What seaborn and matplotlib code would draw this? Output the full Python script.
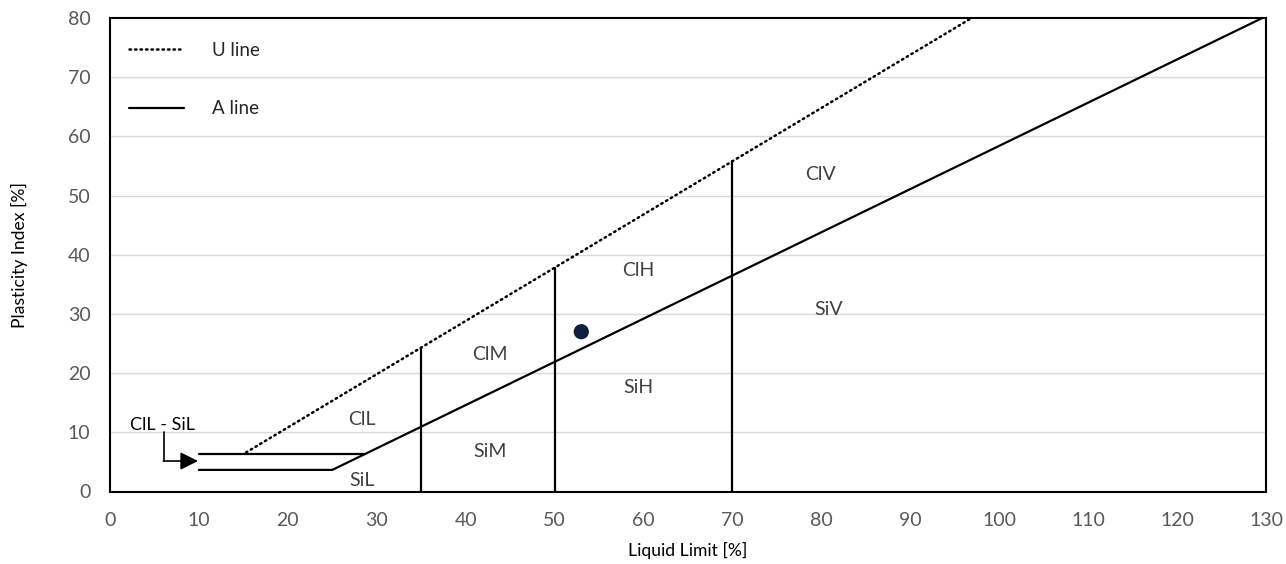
import matplotlib
matplotlib.use("Agg")
import matplotlib.pyplot as plt
from matplotlib.lines import Line2D
import seaborn as sns
import pandas as pd

# ---- data ----
a_line_ll = [10, 25.0, 130]
a_line_pi = [3.65, 3.65, 80.3]
a_upper_ll = [10, 28.6]
a_upper_pi = [6.3, 6.3]
u_line_ll = [15.3, 96.9]
u_line_pi = [6.6, 80.0]
div_ll = [35, 50, 70]
div_top_pi = [24.3, 37.8, 55.8]
sample_ll = [53]
sample_pi = [27]
zone_labels = ["ClL", "SiL", "ClM", "SiM", "ClH", "SiH", "ClV", "SiV"]
zone_ll = [28.3, 28.3, 42.7, 42.7, 59.4, 59.4, 79.9, 80.8]
zone_pi = [12.1, 1.8, 23.1, 6.7, 37.4, 17.5, 53.5, 30.7]
x_ticks = list(range(0, 131, 10))
y_ticks = list(range(0, 81, 10))

sns.set_theme(style="white")
plt.rcParams["font.family"] = ["Lato", "DejaVu Sans"]

fig = plt.figure(figsize=(12.86, 5.64), dpi=100)
ax = fig.add_axes([110/1286, 1 - 491.5/564, (1266-110)/1286, (491.5-18)/564])

lw = 1.6
for y in y_ticks[1:-1]:
    ax.axhline(y, color="#d9d9d9", lw=1.0, zorder=0)

df_u = pd.DataFrame({"LL": u_line_ll, "PI": u_line_pi})
df_a = pd.DataFrame({"LL": a_line_ll, "PI": a_line_pi})
df_a2 = pd.DataFrame({"LL": a_upper_ll, "PI": a_upper_pi})
sns.lineplot(data=df_u, x="LL", y="PI", sort=False, ax=ax, color="black", lw=1.8,
             linestyle=(0, (0.6, 1.6)), dash_capstyle="round", estimator=None)
sns.lineplot(data=df_a, x="LL", y="PI", sort=False, ax=ax, color="black", lw=lw, estimator=None)
sns.lineplot(data=df_a2, x="LL", y="PI", sort=False, ax=ax, color="black", lw=lw, estimator=None)
for xv, top in zip(div_ll, div_top_pi):
    ax.plot([xv, xv], [0, top], color="black", lw=lw)

sns.scatterplot(x=sample_ll, y=sample_pi, ax=ax, color="#0f1f3d", s=120, edgecolor="none", zorder=5)

for t, xv, yv in zip(zone_labels, zone_ll, zone_pi):
    ax.text(xv, yv, t, ha="center", va="center", fontsize=14, color="#404040")

ax.text(5.9, 11.2, "ClL - SiL", ha="center", va="center", fontsize=13, color="black")
ax.plot([6.07, 6.07], [10.0, 5.15], color="black", lw=1.2)
ax.annotate("", xy=(9.9, 5.15), xytext=(6.0, 5.15),
            arrowprops=dict(arrowstyle="-|>,head_length=0.9,head_width=0.45", color="black", lw=1.2,
                            shrinkA=0, shrinkB=0))

ax.set_xlim(0, 130)
ax.set_ylim(0, 80)
ax.set_xticks(x_ticks)
ax.set_yticks(y_ticks)
ax.tick_params(axis="both", length=0, labelsize=14, labelcolor="#595959")
ax.tick_params(axis="x", pad=15)
ax.tick_params(axis="y", pad=14)
ax.set_xlabel("Liquid Limit [%]", fontsize=12.6, color="black", labelpad=9)
ax.set_ylabel("Plasticity Index [%]", fontsize=12.6, color="black", labelpad=29)
for s in ax.spines.values():
    s.set_color("black")
    s.set_linewidth(1.5)
    s.set_visible(True)

handles = [Line2D([0], [0], color="black", lw=1.8, linestyle=(0, (0.6, 1.6)), dash_capstyle="round"),
           Line2D([0], [0], color="black", lw=lw)]
ax.legend(handles, ["U line", "A line"], loc="upper left", bbox_to_anchor=(0.002, 0.985),
          frameon=False, fontsize=13.5, handlelength=2.9, handletextpad=1.5, labelspacing=2.2)

fig.savefig("out.png", dpi=100)
